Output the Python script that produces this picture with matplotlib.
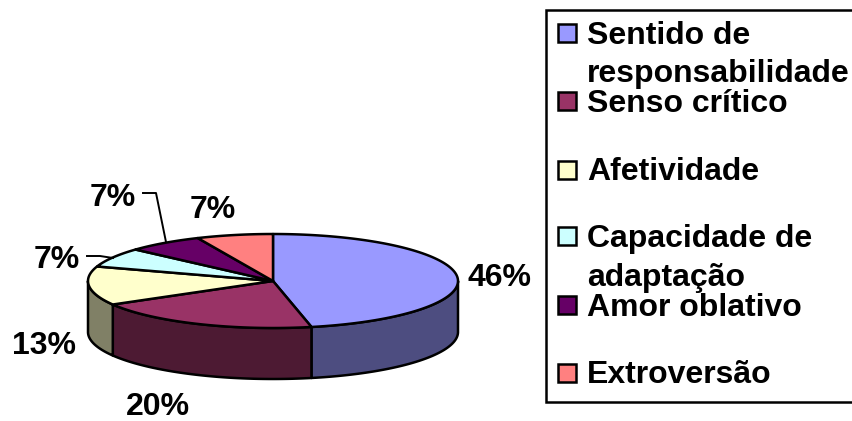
import matplotlib
matplotlib.use("Agg")
import matplotlib.pyplot as plt
import numpy as np
from matplotlib.patches import Polygon, Rectangle

categories = ["Sentido de\nresponsabilidade", "Senso crítico", "Afetividade",
              "Capacidade de\nadaptação", "Amor oblativo", "Extroversão"]
# counts out of 15, the labels on the chart are cut off rather than rounded
values = [7, 3, 2, 1, 1, 1]
pct_labels = ["46%", "20%", "13%", "7%", "7%", "7%"]
colors = ["#9999ff", "#993366", "#ffffcc", "#ccffff", "#660066", "#ff8080"]
side_colors = ["#4d4d80", "#4d1a33", "#808066", "#668080", "#330033", "#804040"]

plt.rcParams["font.family"] = ["Liberation Sans", "DejaVu Sans"]

# figure coords = pixels of the picture
fig = plt.figure(figsize=(8.52, 4.21), dpi=100)
ax = fig.add_axes([0, 0, 1, 1])
ax.set_xlim(0, 852)
ax.set_ylim(421, 0)
ax.axis("off")

cx, cy = 273, 281
rx, ry = 185, 47
depth = 51
lw = 1.8


def rim(a, b):
    t = np.radians(np.linspace(a, b, 120))
    return cx + rx * np.sin(t), cy - ry * np.cos(t)


bounds = np.cumsum([0] + values) * 360.0 / sum(values)

# sides, only the front half of the ellipse shows
for i in range(len(values)):
    a = max(bounds[i], 90)
    b = min(bounds[i + 1], 270)
    if a >= b:
        continue
    x, y = rim(a, b)
    pts = np.column_stack([np.r_[x, x[::-1]], np.r_[y, y[::-1] + depth]])
    ax.add_patch(Polygon(pts, closed=True, fc=side_colors[i], ec="black", lw=lw, joinstyle="round"))

# top
for i in range(len(values)):
    x, y = rim(bounds[i], bounds[i + 1])
    pts = np.column_stack([np.r_[cx, x], np.r_[cy, y]])
    ax.add_patch(Polygon(pts, closed=True, fc=colors[i], ec="black", lw=lw, joinstyle="round"))

# percent labels
label_pos = [(500, 286), (158, 415), (44, 354), (57, 268), (113, 206), (213, 218)]
for txt, (lx, ly) in zip(pct_labels, label_pos):
    ax.text(lx, ly, txt, fontsize=23, fontweight="bold", ha="center", va="baseline", color="black")

# leader lines
ax.plot([143, 156, 166], [193, 193, 242], color="black", lw=1.4)
ax.plot([87, 100, 113], [256, 256, 258], color="black", lw=1.4)

# legend
ax.add_patch(Rectangle((546, 10), 310, 392, fc="white", ec="black", lw=1.8))
key_y = [33, 101, 169.5, 236, 305, 373]
text_y = [[44, 82], [112], [180], [247, 286], [316], [383]]
for c, name, ky, ty in zip(colors, categories, key_y, text_y):
    ax.add_patch(Rectangle((558, ky - 9), 18, 18, fc=c, ec="black", lw=1.8))
    for line, yy in zip(name.split("\n"), ty):
        ax.text(587, yy, line, fontsize=23, fontweight="bold", ha="left", va="baseline", color="black")

fig.savefig("out.png", dpi=100)
